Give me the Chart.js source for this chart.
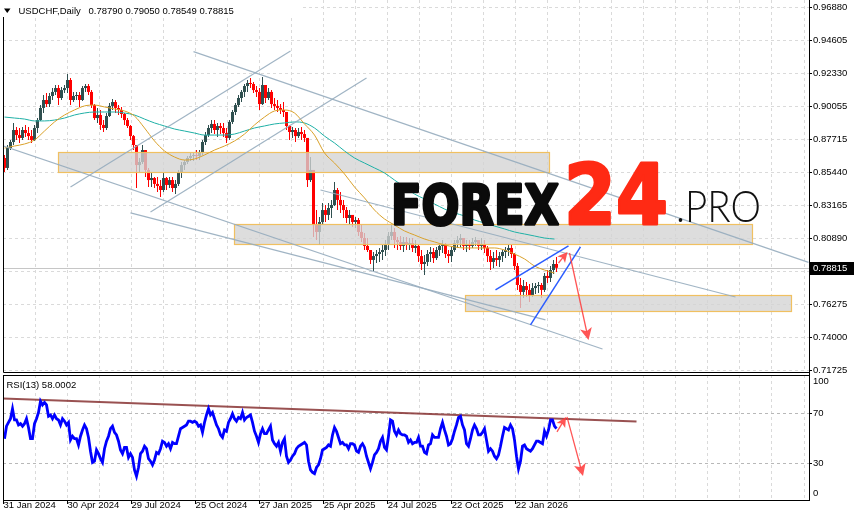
<!DOCTYPE html>
<html>
<head>
<meta charset="utf-8">
<title>USDCHF Daily</title>
<script src="https://cdn.jsdelivr.net/npm/chart.js@4.4.1/dist/chart.umd.min.js"></script>
<style>
  html, body { margin: 0; padding: 0; background: #fff; }
  #wrap { position: relative; width: 854px; height: 521px; overflow: hidden; }
  #wrap canvas { position: absolute; left: 0; }
</style>
</head>
<body>
<div id="wrap">
  <canvas id="priceChart" width="854" height="375" style="top:0"></canvas>
  <canvas id="rsiChart" width="854" height="146" style="top:375px"></canvas>
</div>
<script>
// ---- values ----
const symbolTitle = 'USDCHF,Daily';
const lastBar = ['0.78790', '0.79050', '0.78549', '0.78815'];
const lastPrice = 0.78815;
const rsiTitle = 'RSI(13) 58.0002';

const dateLabels = ['31 Jan 2024', '30 Apr 2024', '29 Jul 2024', '25 Oct 2024', '27 Jan 2025',
  '25 Apr 2025', '24 Jul 2025', '22 Oct 2025', '22 Jan 2026'];
const priceTickLabels = ['0.96880', '0.94605', '0.92330', '0.90055', '0.87715', '0.85440',
  '0.83165', '0.80890', '0.78615', '0.76275', '0.74000', '0.71725'];
const rsiTickLabels = ['100', '70', '30', '0'];

// one candle per 3 trading days
const candleStep = 3;
const opens = [
  0.8643, 0.8574, 0.8712, 0.8754, 0.8837, 0.8802, 0.8782, 0.8837, 0.8816, 0.8795,
  0.8768, 0.8851, 0.8906, 0.8990, 0.9045, 0.9017, 0.9073, 0.9101, 0.9128, 0.9059,
  0.9114, 0.9128, 0.9184, 0.9045, 0.9073, 0.9080, 0.9045, 0.9128, 0.9142, 0.9101,
  0.9010, 0.8920, 0.8941, 0.8872, 0.8851, 0.8934, 0.9004, 0.9031, 0.8990, 0.8976,
  0.8948, 0.8906, 0.8865, 0.8795, 0.8733, 0.8594, 0.8615, 0.8698, 0.8560, 0.8490,
  0.8504, 0.8463, 0.8449, 0.8421, 0.8504, 0.8456, 0.8490, 0.8435, 0.8463, 0.8546,
  0.8594, 0.8615, 0.8643, 0.8657, 0.8664, 0.8657, 0.8684, 0.8754, 0.8802, 0.8851,
  0.8879, 0.8837, 0.8865, 0.8851, 0.8816, 0.8782, 0.8893, 0.8962, 0.9010, 0.9059,
  0.9101, 0.9142, 0.9163, 0.9156, 0.9114, 0.9101, 0.9017, 0.9149, 0.9059, 0.9101,
  0.9017, 0.9004, 0.8990, 0.8976, 0.8962, 0.8865, 0.8823, 0.8837, 0.8795, 0.8823,
  0.8809, 0.8782, 0.8490, 0.8560, 0.8178, 0.8130, 0.8199, 0.8282, 0.8248, 0.8296,
  0.8317, 0.8421, 0.8352, 0.8317, 0.8282, 0.8227, 0.8248, 0.8199, 0.8213, 0.8130,
  0.8088, 0.8033, 0.8005, 0.7936, 0.7963, 0.7977, 0.7991, 0.8005, 0.8047, 0.8102,
  0.8130, 0.8074, 0.8060, 0.8033, 0.8060, 0.8040, 0.8053, 0.8019, 0.8033, 0.7963,
  0.7908, 0.7922, 0.7977, 0.7991, 0.7949, 0.8005, 0.8033, 0.8047, 0.7977, 0.7963,
  0.8005, 0.8053, 0.8074, 0.8088, 0.8033, 0.8047, 0.8033, 0.8060, 0.8074, 0.8033,
  0.8047, 0.8019, 0.7963, 0.7922, 0.7949, 0.7936, 0.7963, 0.7991, 0.8005, 0.8019,
  0.7977, 0.7894, 0.7762, 0.7714, 0.7755, 0.7728, 0.7693, 0.7741, 0.7755, 0.7762,
  0.7728, 0.7825, 0.7811, 0.7866, 0.7908];
const highs = [
  0.8664, 0.8733, 0.8768, 0.8886, 0.8858, 0.8851, 0.8858, 0.8872, 0.8858, 0.8837,
  0.8872, 0.8920, 0.9010, 0.9080, 0.9094, 0.9094, 0.9128, 0.9149, 0.9149, 0.9135,
  0.9149, 0.9225, 0.9198, 0.9101, 0.9101, 0.9101, 0.9142, 0.9156, 0.9156, 0.9114,
  0.9017, 0.8990, 0.8976, 0.8906, 0.8955, 0.9024, 0.9052, 0.9045, 0.9010, 0.8997,
  0.8955, 0.8920, 0.8872, 0.8802, 0.8733, 0.8643, 0.8733, 0.8698, 0.8574, 0.8539,
  0.8511, 0.8511, 0.8490, 0.8539, 0.8511, 0.8511, 0.8511, 0.8490, 0.8560, 0.8615,
  0.8629, 0.8657, 0.8678, 0.8678, 0.8698, 0.8698, 0.8768, 0.8823, 0.8872, 0.8906,
  0.8906, 0.8886, 0.8886, 0.8886, 0.8851, 0.8906, 0.8976, 0.9024, 0.9080, 0.9114,
  0.9156, 0.9184, 0.9198, 0.9170, 0.9142, 0.9128, 0.9205, 0.9149, 0.9128, 0.9114,
  0.9059, 0.9045, 0.9017, 0.9031, 0.8962, 0.8872, 0.8858, 0.8851, 0.8851, 0.8858,
  0.8837, 0.8782, 0.8650, 0.8560, 0.8282, 0.8234, 0.8331, 0.8317, 0.8331, 0.8352,
  0.8476, 0.8435, 0.8407, 0.8352, 0.8303, 0.8282, 0.8248, 0.8234, 0.8227, 0.8178,
  0.8123, 0.8088, 0.8005, 0.7991, 0.8005, 0.8019, 0.8040, 0.8074, 0.8130, 0.8178,
  0.8158, 0.8095, 0.8102, 0.8095, 0.8095, 0.8088, 0.8088, 0.8074, 0.8040, 0.8005,
  0.7970, 0.8005, 0.8026, 0.8019, 0.8026, 0.8054, 0.8074, 0.8054, 0.8005, 0.8026,
  0.8074, 0.8102, 0.8116, 0.8088, 0.8074, 0.8074, 0.8088, 0.8095, 0.8074, 0.8088,
  0.8074, 0.8033, 0.8005, 0.7991, 0.8005, 0.7991, 0.8005, 0.8026, 0.8040, 0.8040,
  0.7984, 0.7915, 0.7811, 0.7797, 0.7783, 0.7769, 0.7776, 0.7776, 0.7783, 0.7776,
  0.7845, 0.7866, 0.7894, 0.7936, 0.7956];
const lows = [
  0.8546, 0.8560, 0.8698, 0.8733, 0.8768, 0.8747, 0.8768, 0.8789, 0.8768, 0.8747,
  0.8761, 0.8816, 0.8900, 0.8955, 0.8997, 0.8997, 0.9045, 0.9080, 0.9010, 0.9045,
  0.9094, 0.9094, 0.9010, 0.9031, 0.9045, 0.8997, 0.9038, 0.9101, 0.9080, 0.8990,
  0.8906, 0.8886, 0.8837, 0.8823, 0.8837, 0.8927, 0.8976, 0.8955, 0.8941, 0.8920,
  0.8872, 0.8851, 0.8768, 0.8698, 0.8435, 0.8546, 0.8601, 0.8511, 0.8442, 0.8442,
  0.8435, 0.8407, 0.8373, 0.8407, 0.8421, 0.8435, 0.8407, 0.8393, 0.8449, 0.8504,
  0.8560, 0.8601, 0.8622, 0.8622, 0.8629, 0.8629, 0.8664, 0.8733, 0.8789, 0.8816,
  0.8809, 0.8789, 0.8809, 0.8789, 0.8747, 0.8768, 0.8879, 0.8941, 0.8997, 0.9031,
  0.9066, 0.9101, 0.9128, 0.9094, 0.9066, 0.8976, 0.9010, 0.9024, 0.9045, 0.8990,
  0.8976, 0.8962, 0.8948, 0.8927, 0.8837, 0.8768, 0.8782, 0.8754, 0.8782, 0.8768,
  0.8754, 0.8442, 0.8476, 0.8095, 0.8074, 0.8040, 0.8178, 0.8199, 0.8213, 0.8227,
  0.8310, 0.8282, 0.8262, 0.8227, 0.8192, 0.8178, 0.8164, 0.8158, 0.8102, 0.8060,
  0.8005, 0.7991, 0.7908, 0.7859, 0.7915, 0.7922, 0.7936, 0.7963, 0.8005, 0.8074,
  0.8019, 0.8005, 0.8005, 0.7991, 0.8005, 0.8005, 0.7991, 0.7984, 0.7922, 0.7866,
  0.7832, 0.7894, 0.7922, 0.7915, 0.7936, 0.7963, 0.7984, 0.7949, 0.7915, 0.7922,
  0.7991, 0.8019, 0.8026, 0.8005, 0.7991, 0.8005, 0.8019, 0.8033, 0.8005, 0.8005,
  0.7984, 0.7922, 0.7866, 0.7880, 0.7894, 0.7887, 0.7922, 0.7949, 0.7963, 0.7949,
  0.7866, 0.7728, 0.7603, 0.7672, 0.7679, 0.7644, 0.7679, 0.7700, 0.7707, 0.7672,
  0.7714, 0.7776, 0.7783, 0.7838, 0.7852];
const closes = [
  0.8574, 0.8712, 0.8754, 0.8837, 0.8802, 0.8782, 0.8837, 0.8816, 0.8795, 0.8768,
  0.8851, 0.8906, 0.8990, 0.9045, 0.9017, 0.9073, 0.9101, 0.9128, 0.9059, 0.9114,
  0.9128, 0.9184, 0.9045, 0.9073, 0.9080, 0.9045, 0.9128, 0.9142, 0.9101, 0.9010,
  0.8920, 0.8941, 0.8872, 0.8851, 0.8934, 0.9004, 0.9031, 0.8990, 0.8976, 0.8948,
  0.8906, 0.8865, 0.8795, 0.8733, 0.8594, 0.8615, 0.8698, 0.8560, 0.8490, 0.8504,
  0.8463, 0.8449, 0.8421, 0.8504, 0.8456, 0.8490, 0.8435, 0.8463, 0.8546, 0.8594,
  0.8615, 0.8643, 0.8657, 0.8664, 0.8657, 0.8684, 0.8754, 0.8802, 0.8851, 0.8879,
  0.8837, 0.8865, 0.8851, 0.8816, 0.8782, 0.8893, 0.8962, 0.9010, 0.9059, 0.9101,
  0.9142, 0.9163, 0.9156, 0.9114, 0.9101, 0.9017, 0.9149, 0.9059, 0.9101, 0.9017,
  0.9004, 0.8990, 0.8976, 0.8962, 0.8865, 0.8823, 0.8837, 0.8795, 0.8823, 0.8809,
  0.8782, 0.8490, 0.8560, 0.8178, 0.8130, 0.8199, 0.8282, 0.8248, 0.8296, 0.8317,
  0.8421, 0.8352, 0.8317, 0.8282, 0.8227, 0.8248, 0.8199, 0.8213, 0.8130, 0.8088,
  0.8033, 0.8005, 0.7936, 0.7963, 0.7977, 0.7991, 0.8005, 0.8047, 0.8102, 0.8130,
  0.8074, 0.8060, 0.8033, 0.8060, 0.8040, 0.8053, 0.8019, 0.8033, 0.7963, 0.7908,
  0.7922, 0.7977, 0.7991, 0.7949, 0.8005, 0.8033, 0.8047, 0.7977, 0.7963, 0.8005,
  0.8053, 0.8074, 0.8088, 0.8033, 0.8047, 0.8033, 0.8060, 0.8074, 0.8033, 0.8047,
  0.8019, 0.7963, 0.7922, 0.7949, 0.7936, 0.7963, 0.7991, 0.8005, 0.8019, 0.7977,
  0.7894, 0.7762, 0.7714, 0.7755, 0.7728, 0.7693, 0.7741, 0.7755, 0.7762, 0.7728,
  0.7825, 0.7811, 0.7866, 0.7908, 0.78815];

// moving averages, one point every 10 trading days
const maDays = [0, 10, 20, 30, 40, 50, 60, 70, 80, 90, 100, 110, 120, 130, 140, 150, 160, 170, 180, 190,
  200, 210, 220, 230, 240, 250, 260, 270, 280, 290, 300, 310, 320, 330, 340, 350, 360, 370, 380, 390,
  400, 410, 420, 430, 440, 450, 460, 470, 480, 490, 500, 510, 520, 530, 540, 550];
const maFast = [0.8712, 0.8726, 0.8740, 0.8768, 0.8830, 0.8893, 0.8941, 0.8976, 0.9004, 0.9010,
  0.8997, 0.8983, 0.8969, 0.8934, 0.8851, 0.8761, 0.8692, 0.8650, 0.8629, 0.8636,
  0.8664, 0.8698, 0.8726, 0.8761, 0.8809, 0.8872, 0.8927, 0.8969, 0.8976, 0.8955,
  0.8879, 0.8802, 0.8678, 0.8608, 0.8532, 0.8442, 0.8366, 0.8282, 0.8220, 0.8178,
  0.8137, 0.8109, 0.8081, 0.8061, 0.8040, 0.8026, 0.8019, 0.8019, 0.8019, 0.8019,
  0.8005, 0.7977, 0.7943, 0.7894, 0.7866, 0.7845];
const maSlow = [0.8927, 0.8920, 0.8913, 0.8900, 0.8900, 0.8906, 0.8920, 0.8941, 0.8955, 0.8962,
  0.8962, 0.8962, 0.8955, 0.8941, 0.8913, 0.8886, 0.8865, 0.8844, 0.8830, 0.8816,
  0.8802, 0.8802, 0.8802, 0.8809, 0.8830, 0.8851, 0.8865, 0.8879, 0.8886, 0.8893,
  0.8886, 0.8851, 0.8795, 0.8747, 0.8692, 0.8643, 0.8608, 0.8574, 0.8539, 0.8490,
  0.8442, 0.8393, 0.8359, 0.8324, 0.8289, 0.8262, 0.8241, 0.8213, 0.8192, 0.8171,
  0.8151, 0.8130, 0.8116, 0.8102, 0.8088, 0.8081];

// RSI(13), one point every 2 trading days
const rsiStep = 2;
const rsiValues = [
  50, 60, 63, 66, 74, 65, 65, 61, 62, 60, 62, 66, 59, 50, 50, 62, 66, 71, 80, 77,
  79, 77, 68, 69, 66, 69, 66, 65, 61, 66, 64, 61, 63, 49, 52, 50, 50, 45, 52, 57,
  61, 58, 51, 40, 31, 32, 41, 38, 34, 31, 42, 48, 52, 58, 60, 55, 53, 48, 41, 38,
  43, 43, 35, 38, 35, 25, 20, 27, 38, 40, 44, 42, 34, 32, 29, 33, 39, 38, 42, 48,
  47, 44, 46, 42, 47, 46, 46, 52, 58, 59, 60, 61, 64, 64, 63, 64, 63, 60, 61, 55,
  63, 69, 74, 69, 71, 66, 61, 58, 53, 51, 57, 56, 63, 66, 70, 66, 64, 67, 66, 71,
  65, 67, 68, 69, 63, 56, 52, 47, 54, 58, 54, 54, 57, 60, 49, 46, 44, 47, 40, 47,
  50, 36, 31, 33, 36, 38, 42, 44, 45, 46, 47, 45, 32, 25, 23, 22, 27, 29, 34, 41,
  42, 43, 45, 44, 53, 59, 56, 51, 46, 47, 45, 45, 42, 46, 46, 45, 40, 39, 44, 46,
  43, 36, 31, 26, 31, 37, 39, 42, 48, 51, 43, 41, 52, 65, 64, 56, 53, 57, 54, 53,
  53, 52, 47, 49, 46, 47, 47, 51, 44, 44, 39, 38, 45, 46, 53, 51, 51, 51, 58, 63,
  57, 52, 45, 46, 50, 56, 61, 67, 68, 61, 57, 46, 44, 50, 57, 61, 58, 53, 53, 55,
  58, 49, 40, 42, 40, 36, 34, 37, 44, 52, 59, 58, 57, 61, 58, 49, 36, 26, 32, 44,
  45, 42, 41, 40, 42, 45, 48, 48, 47, 46, 56, 52, 57, 65, 65, 60, 58];

// analyst drawings, endpoints as [trading day, price]
const channelLines = [
  [[189, 0.9381], [804, 0.7919]],
  [[66, 0.8442], [286, 0.9385]],
  [[146, 0.8268], [362, 0.9198]],
  [[-4, 0.8733], [598, 0.7318]],
  [[126, 0.8262], [541, 0.7520]],
  [[316, 0.8421], [731, 0.7679]]];
const wedgeLines = [
  [[491, 0.7728], [564, 0.8033]],
  [[526, 0.7485], [576, 0.8026]]];
// [first day, last day, top price, bottom price]
const zones = [
  [53, 544, 0.8682, 0.8544],
  [229, 747, 0.8183, 0.8044],
  [460, 786, 0.7691, 0.7582]];
const priceArrows = [
  [[554, 0.7915], [563, 0.7991]],
  [[565, 0.7984], [584, 0.7381]]];
const rsiTrend = [[-4, 82.3], [632, 63.8]];
const rsiArrows = [
  [[552.5, 55.4], [561.5, 67.4]],
  [[562.5, 67.4], [578.5, 20.2]]];

// ---- layout constants ----
const FONT = '"Liberation Sans", Arial, sans-serif';
Chart.defaults.font.family = FONT;
Chart.defaults.font.size = 9.5;
Chart.defaults.color = '#000';

const X_MIN = -1.5, X_MAX = 804.5;
const GRID_STEP = 32.02;
const gridDays = [];
for (let k = 0; -1 + k * GRID_STEP < X_MAX; k++) gridDays.push(-1 + k * GRID_STEP);

const PRICE_TOP = 0.96880;
const PRICE_STEP = (0.96880 - 0.71725) / 11;
const Y_MAX = 0.97386, Y_MIN = 0.715885;
const rsiTickPos = [95.6, 70, 30, 6.3];

const UP = '#2f4f4f', DOWN = '#ff0000';
const ARROW_RED = 'rgba(255,62,62,0.88)';
const candleColor = c => closes[c.dataIndex] < opens[c.dataIndex] ? DOWN : UP;
const days = closes.map((_, i) => i * candleStep);

function lineSet(pts, color, width, order) {
  return {
    type: 'line', data: pts.map(p => ({ x: p[0], y: p[1] })),
    borderColor: color, borderWidth: width, pointRadius: 0, tension: 0, order
  };
}

function zeroPad(s) { s.paddingTop = 0; s.paddingBottom = 0; s.paddingLeft = 0; s.paddingRight = 0; }
const labelled = i => i % 2 === 0 && i / 2 < dateLabels.length;

function timeAxis(showLabels) {
  return {
    type: 'linear', min: X_MIN, max: X_MAX, offset: false,
    afterBuildTicks: s => { s.ticks = gridDays.map(v => ({ value: v })); },
    afterFit: s => { s.height = showLabels ? 21 : 0; zeroPad(s); },
    grid: {
      offset: false, color: '#dadada', drawTicks: showLabels, tickLength: 4,
      tickColor: c => (showLabels && labelled(c.index)) ? '#000' : 'rgba(0,0,0,0)'
    },
    border: { display: false, dash: [3, 3] },
    ticks: {
      display: showLabels, autoSkip: false, maxRotation: 0, minRotation: 0,
      align: 'start', padding: -4,
      callback: (v, i) => labelled(i) ? dateLabels[i / 2] : ''
    }
  };
}

function drawArrow(ctx, x1, y1, x2, y2, head) {
  const a = Math.atan2(y2 - y1, x2 - x1);
  const c = Math.cos(a), s = Math.sin(a);
  ctx.save();
  ctx.strokeStyle = ARROW_RED; ctx.fillStyle = ARROW_RED; ctx.lineWidth = 1.3;
  ctx.beginPath(); ctx.moveTo(x1, y1); ctx.lineTo(x2 - c * head * 0.7, y2 - s * head * 0.7); ctx.stroke();
  ctx.beginPath();
  ctx.moveTo(x2, y2);
  ctx.lineTo(x2 - head * c + head * 0.5 * s, y2 - head * s - head * 0.5 * c);
  ctx.lineTo(x2 - head * c * 0.75, y2 - head * s * 0.75);
  ctx.lineTo(x2 - head * c - head * 0.5 * s, y2 - head * s + head * 0.5 * c);
  ctx.closePath(); ctx.fill();
  ctx.restore();
}

// logo word, squeezed to a given width; an optional outline makes it heavier
function drawWord(ctx, text, font, color, x, base, width, thicken) {
  ctx.save();
  ctx.font = font; ctx.fillStyle = color; ctx.strokeStyle = color;
  ctx.textBaseline = 'alphabetic'; ctx.textAlign = 'left';
  const w = ctx.measureText(text).width;
  ctx.translate(x, base); ctx.scale(width / w, 1);
  ctx.fillText(text, 0, 0);
  if (thicken) { ctx.lineWidth = thicken; ctx.lineJoin = 'round'; ctx.strokeText(text, 0, 0); }
  ctx.restore();
}

const mainDecor = {
  id: 'mainDecor',
  beforeDatasetsDraw(chart) {
    const { ctx, chartArea: a, scales: { y } } = chart;
    const py = Math.round(y.getPixelForValue(lastPrice)) + 0.5;
    ctx.save();
    ctx.strokeStyle = '#c6c6c6'; ctx.lineWidth = 1;
    ctx.beginPath(); ctx.moveTo(a.left, py); ctx.lineTo(a.right, py); ctx.stroke();
    ctx.restore();
  },
  afterDatasetDraw(chart, args) {
    if (args.index !== 1) return;
    const { ctx, scales: { x, y } } = chart;
    ctx.save();
    zones.forEach(([d0, d1, p0, p1]) => {
      const x0 = Math.round(x.getPixelForValue(d0)) + 0.5, x1 = Math.round(x.getPixelForValue(d1)) + 0.5;
      const y0 = Math.round(y.getPixelForValue(p0)) + 0.5, y1 = Math.round(y.getPixelForValue(p1)) + 0.5;
      ctx.fillStyle = 'rgba(212,212,212,0.78)';
      ctx.fillRect(x0, y0, x1 - x0, y1 - y0);
      ctx.strokeStyle = 'rgba(240,190,90,0.95)'; ctx.lineWidth = 1.2;
      ctx.strokeRect(x0, y0, x1 - x0, y1 - y0);
    });
    ctx.restore();
  },
  afterDatasetsDraw(chart) {
    const { ctx, scales: { x, y } } = chart;
    priceArrows.forEach(([p, q], i) => drawArrow(ctx,
      x.getPixelForValue(p[0]), y.getPixelForValue(p[1]),
      x.getPixelForValue(q[0]), y.getPixelForValue(q[1]), i === 0 ? 10 : 12));
    drawWord(ctx, 'FOREX', 'bold 55px "DejaVu Sans", sans-serif', '#0b0b0b', 391, 223.5, 168, 3);
    drawWord(ctx, '24', 'bold 84px "DejaVu Sans", sans-serif', '#ff2a14', 564, 223.5, 104, 3);
    drawWord(ctx, '.PRO', '300 44px Lato, "Open Sans", sans-serif', '#111', 676, 222, 85, 0);
  },
  afterDraw(chart) {
    const { ctx, chartArea: a, scales: { y } } = chart;
    ctx.save();
    // header strip
    ctx.fillStyle = '#fff';
    ctx.fillRect(0, 0, 300, 17);
    ctx.fillStyle = '#000';
    ctx.beginPath(); ctx.moveTo(4, 8.5); ctx.lineTo(10.5, 8.5); ctx.lineTo(7.25, 13); ctx.closePath(); ctx.fill();
    ctx.font = '9.5px ' + FONT; ctx.textBaseline = 'alphabetic'; ctx.textAlign = 'left';
    ctx.fillText(symbolTitle, 18.5, 14);
    ctx.fillText(lastBar.join(' '), 88.5, 14);
    // frame
    ctx.strokeStyle = '#000'; ctx.lineWidth = 1;
    ctx.beginPath();
    ctx.moveTo(a.left + 0.5, 17); ctx.lineTo(a.left + 0.5, a.bottom + 0.5);
    ctx.lineTo(a.right + 0.5, a.bottom + 0.5);
    ctx.moveTo(a.right + 0.5, 0); ctx.lineTo(a.right + 0.5, chart.height);
    ctx.stroke();
    // current price tag
    const py = y.getPixelForValue(lastPrice);
    ctx.fillStyle = '#000';
    ctx.fillRect(a.right + 1, Math.round(py) - 6, 44, 13);
    ctx.fillStyle = '#fff';
    ctx.textBaseline = 'middle';
    ctx.fillText(lastBar[3], a.right + 4, Math.round(py) + 0.5);
    ctx.restore();
  }
};

const rsiDecor = {
  id: 'rsiDecor',
  afterDatasetsDraw(chart) {
    const { ctx, scales: { x, y } } = chart;
    rsiArrows.forEach(([p, q], i) => drawArrow(ctx,
      x.getPixelForValue(p[0]), y.getPixelForValue(p[1]),
      x.getPixelForValue(q[0]), y.getPixelForValue(q[1]), i === 0 ? 10 : 12));
  },
  afterDraw(chart) {
    const { ctx, chartArea: a } = chart;
    ctx.save();
    ctx.strokeStyle = '#000'; ctx.lineWidth = 1;
    ctx.strokeRect(a.left + 0.5, a.top + 0.5, a.right - a.left, a.bottom - a.top);
    ctx.fillStyle = '#000';
    ctx.font = '9.5px ' + FONT; ctx.textBaseline = 'alphabetic'; ctx.textAlign = 'left';
    ctx.fillText(rsiTitle, 6.5, 13);
    ctx.restore();
  }
};

const common = {
  responsive: false,
  animation: false,
  events: [],
  plugins: { legend: { display: false }, tooltip: { enabled: false } }
};

new Chart(document.getElementById('priceChart'), {
  type: 'bar',
  data: {
    datasets: [
      {
        label: 'range', data: days.map((d, i) => ({ x: d, y: [lows[i], highs[i]] })),
        backgroundColor: candleColor, barThickness: 1, grouped: false, inflateAmount: 0, order: 10
      },
      {
        label: 'body', data: days.map((d, i) => ({ x: d, y: [opens[i], closes[i]] })),
        backgroundColor: candleColor, barThickness: 3, minBarLength: 1, grouped: false, inflateAmount: 0, order: 9
      },
      {
        type: 'line', label: 'MA slow', data: maDays.map((d, i) => ({ x: d, y: maSlow[i] })),
        borderColor: '#1fb0a6', borderWidth: 1, pointRadius: 0, cubicInterpolationMode: 'monotone', order: 7
      },
      {
        type: 'line', label: 'MA fast', data: maDays.map((d, i) => ({ x: d, y: maFast[i] })),
        borderColor: '#d9a12a', borderWidth: 1, pointRadius: 0, cubicInterpolationMode: 'monotone', order: 6
      },
      ...channelLines.map(l => lineSet(l, 'rgba(150,172,190,0.9)', 1.2, 4)),
      ...wedgeLines.map(l => lineSet(l, '#2b5cff', 1.5, 3))
    ]
  },
  options: {
    ...common,
    layout: { padding: { left: 3, top: 0, right: 0, bottom: 3 } },
    scales: {
      x: timeAxis(false),
      y: {
        position: 'right', min: Y_MIN, max: Y_MAX,
        afterFit: s => { s.width = 45; zeroPad(s); },
        afterBuildTicks: s => { s.ticks = priceTickLabels.map((_, k) => ({ value: PRICE_TOP - k * PRICE_STEP })); },
        grid: { color: '#dadada', tickLength: 3, tickColor: '#000' },
        border: { display: false, dash: [3, 3] },
        ticks: { autoSkip: false, padding: 1, callback: (v, i) => priceTickLabels[i] }
      }
    }
  },
  plugins: [mainDecor]
});

new Chart(document.getElementById('rsiChart'), {
  type: 'line',
  data: {
    datasets: [
      {
        label: 'RSI', data: rsiValues.map((v, i) => ({ x: i * rsiStep, y: v })),
        borderColor: '#0000ff', borderWidth: 2.8, pointRadius: 0, tension: 0, order: 1
      },
      lineSet(rsiTrend, 'rgba(135,50,50,0.85)', 2, 2)
    ]
  },
  options: {
    ...common,
    layout: { padding: { left: 3, top: 0, right: 0, bottom: 0 } },
    scales: {
      x: timeAxis(true),
      y: {
        position: 'right', min: 0.96, max: 100.96,
        afterFit: s => { s.width = 45; zeroPad(s); },
        afterBuildTicks: s => { s.ticks = rsiTickPos.map(v => ({ value: v })); },
        grid: {
          color: c => (c.tick.value === 70 || c.tick.value === 30) ? '#b8b8b8' : 'rgba(0,0,0,0)',
          tickLength: 3,
          tickColor: c => (c.tick.value === 70 || c.tick.value === 30) ? '#000' : 'rgba(0,0,0,0)'
        },
        border: { display: false, dash: [3, 3] },
        ticks: { autoSkip: false, padding: 1, callback: (v, i) => rsiTickLabels[i] }
      }
    }
  },
  plugins: [rsiDecor]
});
</script>
</body>
</html>
